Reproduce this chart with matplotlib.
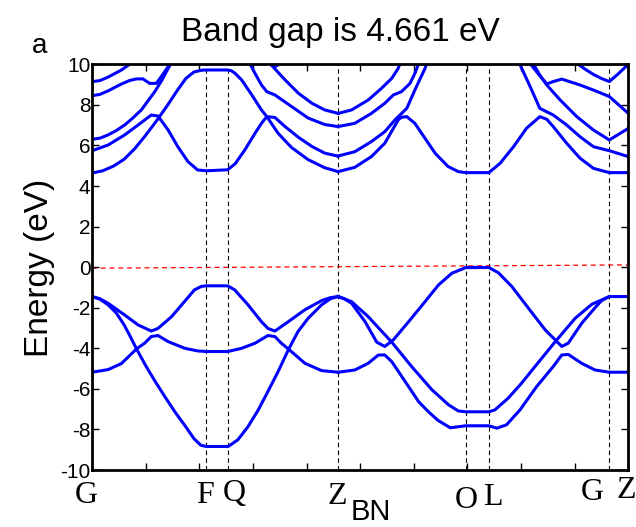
import matplotlib
matplotlib.use('Agg')
import matplotlib.pyplot as plt

plt.rcParams['font.family'] = 'Liberation Sans'
plt.rcParams['axes.unicode_minus'] = False

# high-symmetry points along the path (k in tick units, 0..10)
kpath = [0.0, 2.126, 2.53, 4.59, 6.97, 7.40, 9.646, 10.0]
klabels = ['G', 'F', 'Q', 'Z', 'O', 'L', 'G', 'Z']

# conduction bands (k, E in eV)
c1_k = [0, 0.15, 0.30, 0.45, 0.55, 0.70, 0.76]
c1_e = [9.14, 9.20, 9.37, 9.58, 9.72, 10.0, 10.15]
c2_k = [0, 0.15, 0.30, 0.55, 0.70, 0.83, 0.95, 1.075, 1.20, 1.32, 1.45, 1.50]
c2_e = [8.45, 8.52, 8.69, 9.03, 9.20, 9.28, 9.28, 9.06, 9.06, 9.50, 10.0, 10.2]
c3_k = [0, 0.15, 0.30, 0.45, 0.61, 0.76, 0.92, 1.17, 1.30, 1.42, 1.50]
c3_e = [6.30, 6.36, 6.52, 6.73, 7.01, 7.35, 7.75, 8.65, 9.20, 9.80, 10.15]
c4_k = [0, 0.30, 0.61, 0.86, 1.106, 1.23, 1.42, 1.60, 1.79, 1.97, 2.13, 2.53,
        2.67, 2.85, 3.04, 3.16, 3.26, 3.41, 3.60, 3.85, 4.10, 4.34, 4.59]
c4_e = [5.74, 6.02, 6.52, 7.01, 7.50, 7.45, 6.76, 5.94, 5.20, 4.79, 4.75, 4.80,
        5.10, 5.78, 6.60, 7.09, 7.42, 7.38, 6.93, 6.40, 5.95, 5.62, 5.47]
c5_k = [0, 0.2, 0.4, 0.6, 0.8, 1.0, 1.2, 1.4, 1.6, 1.75, 1.9, 2.05, 2.13, 2.53,
        2.60, 2.67, 2.79, 2.98, 3.16, 3.26, 3.47, 3.72, 4.03, 4.34, 4.59]
c5_e = [4.64, 4.75, 4.98, 5.32, 5.85, 6.50, 7.20, 7.95, 8.75, 9.30, 9.62, 9.71, 9.72, 9.72,
        9.68, 9.55, 9.23, 8.49, 7.75, 7.42, 6.60, 5.90, 5.30, 4.90, 4.71]
c6_k = [2.92, 3.04, 3.16, 3.26, 3.41, 3.72, 4.03, 4.34, 4.59]
c6_e = [10.15, 9.55, 8.98, 8.65, 8.49, 7.92, 7.35, 7.03, 6.93]
c7_k = [3.36, 3.60, 3.85, 4.10, 4.34, 4.59]
c7_e = [9.92, 9.23, 8.57, 8.08, 7.75, 7.58]
c8_k = [3.28, 3.40, 3.55]
c8_e = [10.1, 9.86, 10.1]
c9_k = [4.59, 4.84, 5.15, 5.40, 5.59, 5.71, 5.75]
c9_e = [7.58, 7.75, 8.24, 8.82, 9.31, 9.80, 10.1]
c10_k = [4.59, 4.90, 5.21, 5.46, 5.62, 5.77, 5.93, 6.02, 6.10]
c10_e = [6.93, 7.09, 7.58, 8.08, 8.49, 8.65, 9.06, 9.55, 10.1]
c11_k = [4.59, 4.90, 5.21, 5.46, 5.65, 5.87, 6.02, 6.21, 6.25]
c11_e = [5.48, 5.69, 6.19, 6.68, 7.26, 7.83, 8.73, 9.80, 10.1]
c12_k = [4.59, 4.90, 5.21, 5.46, 5.71, 5.77, 5.87, 6.02, 6.21, 6.40, 6.64, 6.83, 6.97,
         7.40, 7.61, 7.86, 8.10, 8.35, 8.48, 8.60, 8.85, 9.10, 9.35, 9.646, 10.0]
c12_e = [4.71, 4.92, 5.45, 6.11, 7.26, 7.39, 7.42, 7.09, 6.35, 5.61, 4.96, 4.71, 4.66,
         4.66, 5.12, 5.94, 6.84, 7.42, 7.29, 6.93, 6.11, 5.37, 4.87, 4.66, 4.66]
c13_k = [7.96, 8.17, 8.35, 8.60, 8.85, 9.10, 9.35, 9.646, 10.0]
c13_e = [10.1, 8.90, 7.83, 7.50, 7.01, 6.43, 5.94, 5.74, 5.45]
c14_k = [8.21, 8.35, 8.48, 8.73, 9.04, 9.35, 9.646, 10.0]
c14_e = [10.1, 9.47, 8.98, 8.24, 7.42, 6.76, 6.27, 6.84]
c15_k = [8.15, 8.33, 8.48, 8.60, 8.76, 9.10, 9.35, 9.646, 10.0]
c15_e = [10.1, 9.50, 9.03, 9.15, 9.27, 8.98, 8.73, 8.41, 7.58]
c16_k = [9.04, 9.20, 9.35, 9.50, 9.646, 9.80, 10.0]
c16_e = [10.05, 9.75, 9.50, 9.30, 9.15, 9.50, 10.0]

# valence bands
v1_k = [0, 0.15, 0.30, 0.61, 0.86, 1.106, 1.23, 1.48, 1.73, 1.91, 2.04, 2.13, 2.53,
        2.66, 2.91, 3.16, 3.28, 3.41, 3.66, 3.97, 4.28, 4.45, 4.59]
v1_e = [-1.45, -1.56, -1.78, -2.36, -2.85, -3.15, -3.02, -2.45, -1.68, -1.12, -0.95, -0.92, -0.92,
        -1.12, -1.86, -2.69, -3.02, -3.15, -2.69, -2.10, -1.65, -1.50, -1.45]
v2_k = [0, 0.15, 0.30, 0.45, 0.60, 0.72, 0.83, 1.00, 1.17, 1.35, 1.55, 1.73, 1.90, 2.03,
        2.13, 2.54, 2.72, 2.91, 3.10, 3.28, 3.47, 3.66, 3.84, 4.03, 4.28, 4.45, 4.59]
v2_e = [-1.45, -1.58, -1.86, -2.25, -2.85, -3.45, -4.03, -4.85, -5.60, -6.35, -7.15, -7.80, -8.45, -8.78,
        -8.84, -8.84, -8.51, -7.86, -7.04, -6.13, -5.15, -4.08, -3.18, -2.52, -1.86, -1.55, -1.45]
v3_k = [0, 0.30, 0.55, 0.83, 0.98, 1.106, 1.23, 1.42, 1.73, 1.97, 2.13, 2.53, 2.79,
        3.04, 3.28, 3.41, 3.53, 3.66, 3.97, 4.28, 4.59]
v3_e = [-5.18, -5.05, -4.75, -4.03, -3.75, -3.42, -3.37, -3.67, -4.00, -4.13, -4.16, -4.16, -4.00,
        -3.75, -3.37, -3.42, -3.75, -4.03, -4.74, -5.10, -5.18]
v4_k = [4.59, 4.70, 4.84, 5.09, 5.31, 5.46, 5.62, 5.90, 6.21, 6.46, 6.71, 6.97, 7.40, 7.58,
        7.83, 8.14, 8.45, 8.76, 8.88, 9.13, 9.38, 9.50, 9.646, 10.0]
v4_e = [-1.45, -1.55, -1.78, -2.68, -3.70, -3.91, -3.58, -2.70, -1.70, -0.88, -0.30, -0.02, -0.02, -0.28,
        -0.96, -2.03, -3.09, -3.91, -3.75, -2.77, -2.00, -1.65, -1.45, -1.45]
v5_k = [4.59, 4.84, 5.15, 5.59, 5.96, 6.34, 6.65, 6.83, 6.97, 7.40, 7.51, 7.76, 8.01,
        8.26, 8.63, 9.01, 9.32, 9.646]
v5_e = [-1.45, -1.70, -2.44, -3.70, -4.90, -6.05, -6.79, -7.09, -7.13, -7.13, -7.04, -6.46, -5.72,
        -4.90, -3.70, -2.52, -1.83, -1.45]
v6_k = [4.59, 4.90, 5.15, 5.34, 5.46, 5.59, 5.84, 6.09, 6.27, 6.45, 6.68, 6.97, 7.40, 7.55,
        7.73, 7.98, 8.29, 8.60, 8.76, 8.88, 9.13, 9.38, 9.646, 10.0]
v6_e = [-5.18, -5.07, -4.74, -4.33, -4.33, -4.66, -5.64, -6.63, -7.12, -7.55, -7.92, -7.82, -7.82, -7.94,
        -7.77, -7.04, -5.89, -4.90, -4.33, -4.30, -4.74, -5.07, -5.18, -5.18]

bands = [(c1_k, c1_e), (c2_k, c2_e), (c3_k, c3_e), (c4_k, c4_e), (c5_k, c5_e),
         (c6_k, c6_e), (c7_k, c7_e), (c8_k, c8_e), (c9_k, c9_e), (c10_k, c10_e),
         (c11_k, c11_e), (c12_k, c12_e), (c13_k, c13_e), (c14_k, c14_e),
         (c15_k, c15_e), (c16_k, c16_e),
         (v1_k, v1_e), (v2_k, v2_e), (v3_k, v3_e), (v4_k, v4_e), (v5_k, v5_e), (v6_k, v6_e)]

# Fermi level reference line
fermi_k = [0.0, 10.0]
fermi_e = [-0.05, 0.11]

W, H = 636, 527
fig = plt.figure(figsize=(W / 100, H / 100), dpi=100)
ax = fig.add_axes([92 / W, 1 - 470 / H, (628.3 - 92) / W, (470 - 64.3) / H])

for x in kpath[1:-1]:
    ax.plot([x, x], [-10, 10], color='black', lw=0.8, ls=(0, (4, 3)), zorder=1)
ax.plot(fermi_k, fermi_e, color='red', lw=0.9, ls=(0, (4, 3)), zorder=1)

for k, e in bands:
    ax.plot(k, e, color='blue', lw=2.2, solid_joinstyle='round', zorder=2)

ax.set_xlim(0, 10)
ax.set_ylim(-10, 10)
ax.set_xticks(range(11))
ax.set_xticklabels([])
ax.set_yticks(range(-10, 11, 2))
ax.tick_params(direction='in', top=True, right=True, length=5, width=1,
               labelsize=15, pad=1)
for s in ax.spines.values():
    s.set_linewidth(2)

# path labels under the axis
label_x = [86, 205, 234, 337, 466, 493, 592, 626]
label_y = [503, 503, 501, 504, 508, 505, 500, 498]
for name, px, py in zip(klabels, label_x, label_y):
    fig.text(px / W, 1 - py / H, name, family='Liberation Serif', fontsize=23,
             ha='center', va='baseline')

fig.text(340 / W, 1 - 41 / H, 'Band gap is 4.661 eV', fontsize=24,
         ha='center', va='baseline')
fig.text(40 / W, 1 - 53 / H, 'a', fontsize=20, ha='center', va='baseline')
fig.text(40 / W, 1 - 268 / H, 'Energy (eV)', fontsize=24, rotation=90,
         ha='center', va='center')
fig.text(371 / W, 1.5 / H, 'BN', fontsize=21, ha='center', va='bottom')

fig.savefig('out.png', dpi=100)
